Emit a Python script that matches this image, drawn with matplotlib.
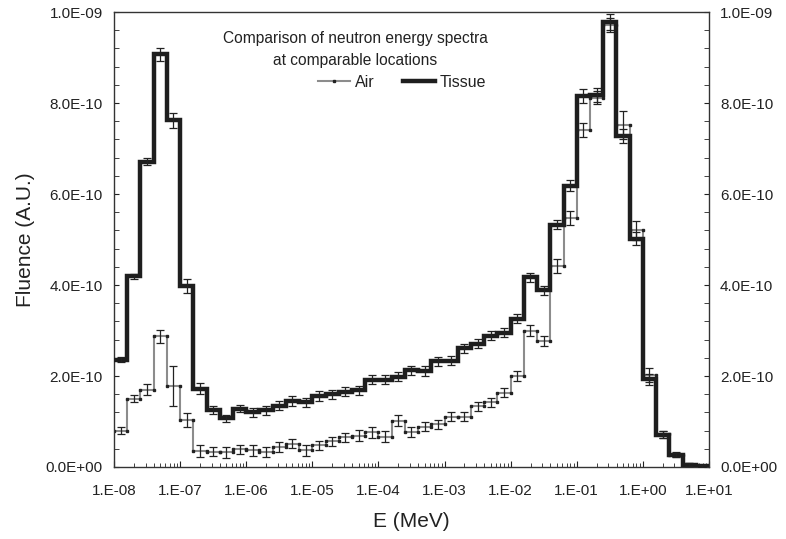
import numpy as np
import matplotlib
matplotlib.use("Agg")
import matplotlib.pyplot as plt
from matplotlib.ticker import MultipleLocator, FuncFormatter, LogLocator, NullFormatter

plt.rcParams['font.family'] = ['Liberation Sans', 'DejaVu Sans']

# bin edges: 5 bins per decade, 1e-8 .. 1e1 MeV
log_edges = np.linspace(-8, 1, 46)

# fluence values in units of 1e-10
tissue = [2.36, 4.19, 6.71, 9.07, 7.62, 3.98, 1.72, 1.26, 1.07, 1.28,
          1.20, 1.25, 1.35, 1.45, 1.42, 1.56, 1.60, 1.65, 1.69, 1.92,
          1.92, 1.98, 2.13, 2.11, 2.32, 2.34, 2.61, 2.71, 2.89, 2.95,
          3.26, 4.17, 3.88, 5.33, 6.18, 8.15, 8.18, 9.78, 7.27, 5.02,
          1.93, 0.71, 0.26, 0.05, 0.02]
tissue_err = [0.05, 0.06, 0.08, 0.15, 0.17, 0.15, 0.12, 0.09, 0.08, 0.08,
              0.1, 0.1, 0.1, 0.1, 0.1, 0.1, 0.1, 0.1, 0.1, 0.1,
              0.1, 0.1, 0.1, 0.1, 0.1, 0.1, 0.1, 0.1, 0.1, 0.1,
              0.1, 0.1, 0.1, 0.1, 0.12, 0.15, 0.15, 0.18, 0.15, 0.15,
              0.12, 0.08, 0.05, 0.03, 0.02]

air = [0.80, 1.50, 1.70, 2.87, 1.78, 1.04, 0.36, 0.34, 0.32, 0.39,
       0.37, 0.33, 0.44, 0.51, 0.37, 0.48, 0.57, 0.65, 0.69, 0.76,
       0.67, 1.02, 0.77, 0.89, 0.94, 1.10, 1.10, 1.33, 1.42, 1.63,
       2.00, 3.00, 2.77, 4.42, 5.48, 7.41, 8.12, 9.72, 7.51, 5.20,
       2.02, 0.72, 0.27, 0.05, 0.02]
air_err = [0.08, 0.08, 0.12, 0.15, 0.43, 0.15, 0.13, 0.1, 0.12, 0.1,
           0.12, 0.12, 0.1, 0.1, 0.12, 0.1, 0.1, 0.1, 0.12, 0.12,
           0.12, 0.12, 0.12, 0.1, 0.1, 0.1, 0.1, 0.1, 0.1, 0.1,
           0.12, 0.12, 0.12, 0.15, 0.15, 0.15, 0.15, 0.15, 0.31, 0.2,
           0.15, 0.08, 0.05, 0.03, 0.02]

scale = 1e-10
edges = 10.0 ** log_edges
centers = 10.0 ** ((log_edges[:-1] + log_edges[1:]) / 2)


def step_xy(vals):
    x = np.repeat(edges, 2)[1:-1]
    y = np.repeat(np.asarray(vals) * scale, 2)
    return x, y


fig = plt.figure(figsize=(7.86, 5.39), dpi=100)
ax = fig.add_axes([0.145, 0.1336, 0.757, 0.844])

xa, ya = step_xy(air)
ax.plot(xa, ya, color="#8c8c8c", lw=1.5, marker="s", ms=1.7,
        mfc="#222222", mec="#222222", zorder=2, label="Air")
ax.errorbar(centers, np.asarray(air) * scale, yerr=np.asarray(air_err) * scale,
            fmt="none", ecolor="#222222", elinewidth=0.9, capsize=2.6, capthick=0.9, zorder=3)

xt, yt = step_xy(tissue)
ax.plot(xt, yt, color="#1e1e1e", lw=3.2, zorder=4, label="Tissue",
        solid_joinstyle="miter")
ax.errorbar(centers, np.asarray(tissue) * scale, yerr=np.asarray(tissue_err) * scale,
            fmt="none", ecolor="#222222", elinewidth=0.9, capsize=2.6, capthick=0.9, zorder=5)

ax.set_xscale("log")
ax.set_xlim(1e-8, 1e1)
ax.set_ylim(0, 1e-9)

ax.xaxis.set_major_locator(LogLocator(base=10, numticks=20))
ax.xaxis.set_minor_locator(LogLocator(base=10, subs=np.arange(2, 10), numticks=20))
ax.xaxis.set_minor_formatter(NullFormatter())
ax.xaxis.set_major_formatter(FuncFormatter(lambda v, p: "1.E%+03d" % int(round(np.log10(v)))))

ax.yaxis.set_major_locator(MultipleLocator(2e-10))
ax.yaxis.set_minor_locator(MultipleLocator(0.4e-10))
ax.yaxis.set_major_formatter(FuncFormatter(lambda v, p: "%.1E" % v))

ax.tick_params(axis="both", which="both", direction="in", colors="#222222",
               labelsize=11, labelcolor="#222222")
ax.tick_params(axis="y", which="both", right=True, labelright=True, pad=8)
ax.tick_params(axis="x", which="major", length=4, pad=12)
ax.tick_params(axis="x", which="minor", length=3)
ax.tick_params(axis="y", which="both", length=3.5)

for s in ax.spines.values():
    s.set_color("#333333")
    s.set_linewidth(1.0)

ax.set_xlabel("E (MeV)", fontsize=15, color="#222222", labelpad=10)
ax.set_ylabel("Fluence (A.U.)", fontsize=15, color="#222222", labelpad=8)

ax.text(0.405, 0.943, "Comparison of neutron energy spectra",
        transform=ax.transAxes, ha="center", va="center", fontsize=11.2, color="#222222")
ax.text(0.405, 0.894, "at comparable locations",
        transform=ax.transAxes, ha="center", va="center", fontsize=11.2, color="#222222")
leg = ax.legend(loc="center", bbox_to_anchor=(0.484, 0.846), ncol=2,
                frameon=False, fontsize=11.5, handlelength=2.0, handletextpad=0.3,
                columnspacing=1.8, borderpad=0)
for t in leg.get_texts():
    t.set_color("#222222")

fig.savefig("out.png", dpi=100)
